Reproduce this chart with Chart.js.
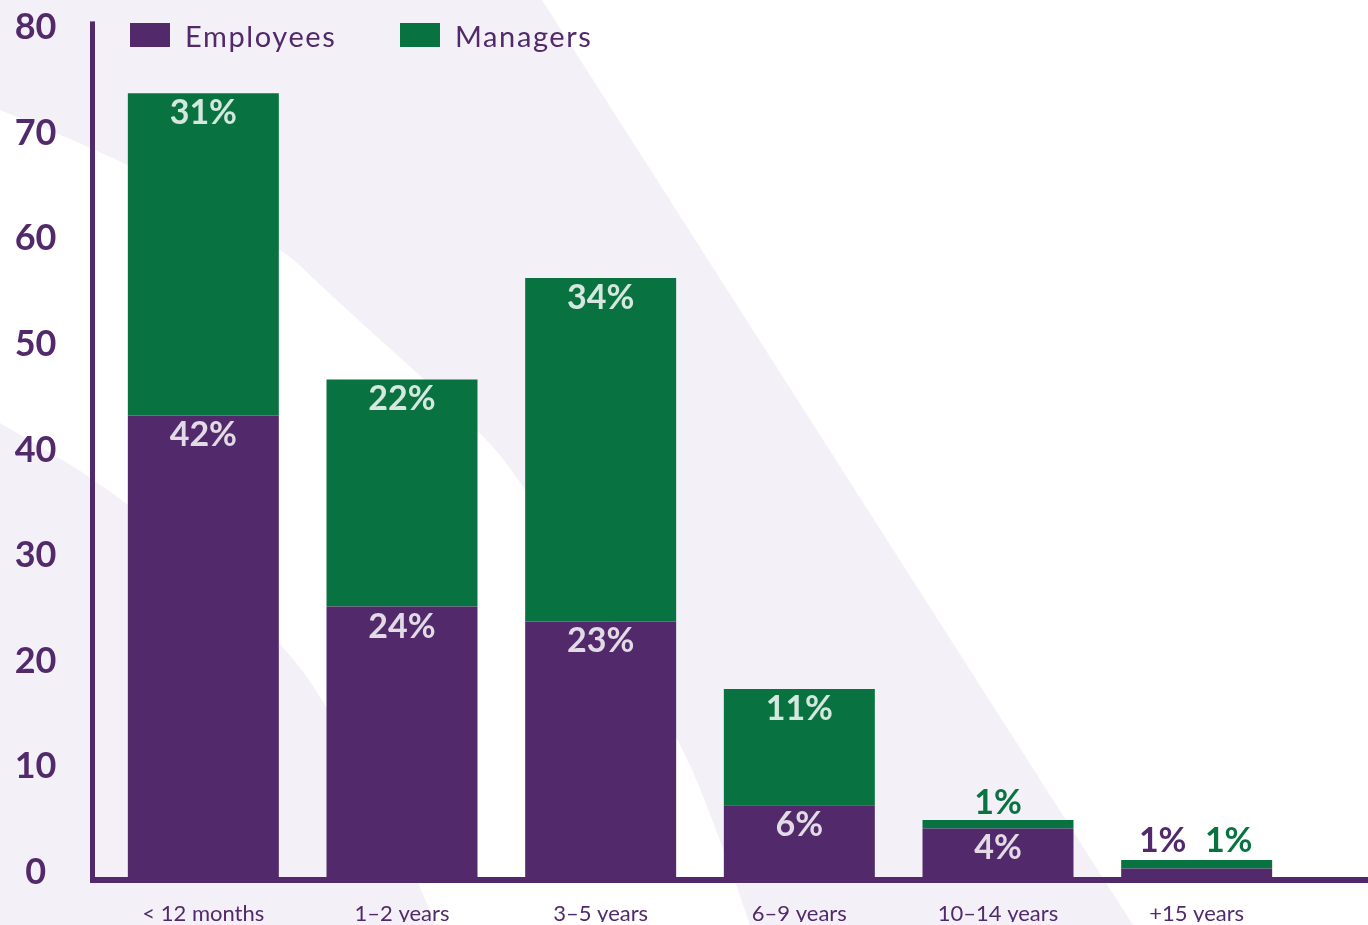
<!DOCTYPE html>
<html lang="en">
<head>
<meta charset="UTF-8">
<title>Tenure - Employees and Managers</title>
<script src="https://cdn.jsdelivr.net/npm/chart.js"></script>
<style>
  html, body { margin: 0; padding: 0; background: #fff; }
  .wrap { position: relative; width: 1368px; height: 925px; overflow: hidden; }
  .legend { position: absolute; left: 130px; top: 23px; display: flex; font-family: Lato, sans-serif; font-size: 29px; color: #522a6b; letter-spacing: 1.6px; }
  .legend-item { display: flex; align-items: center; height: 24px; width: 270px; }
  .legend-item .box { width: 40px; height: 24px; margin-right: 15px; flex: none; }
</style>
</head>
<body>
<div class="wrap">
  <canvas id="tenureChart"></canvas>
  <div class="legend" id="legend"></div>
</div>
<script>
  const categories = ['< 12 months', '1–2 years', '3–5 years', '6–9 years', '10–14 years', '+15 years'];
  const employees = [43.7, 25.6, 24.2, 6.8, 4.6, 0.8];
  const managers = [30.5, 21.5, 32.5, 11.0, 0.8, 0.8];
  const employeeLabels = ['42%', '24%', '23%', '6%', '4%', '1%'];
  const managerLabels = ['31%', '22%', '34%', '11%', '1%', '1%'];
  const yTicks = [0, 10, 20, 30, 40, 50, 60, 70, 80];

  const PURPLE = '#522a6b';
  const GREEN = '#087340';
  const LAVENDER = '#f3f1f7';
  const FONT = 'Lato, "Open Sans", sans-serif';

  // smooth path through points (quadratic via midpoints)
  function smoothPath(ctx, pts, start) {
    if (start) ctx.moveTo(pts[0][0], pts[0][1]);
    else ctx.lineTo(pts[0][0], pts[0][1]);
    for (let i = 1; i < pts.length - 1; i++) {
      const mx = (pts[i][0] + pts[i + 1][0]) / 2;
      const my = (pts[i][1] + pts[i + 1][1]) / 2;
      ctx.quadraticCurveTo(pts[i][0], pts[i][1], mx, my);
    }
    const last = pts[pts.length - 1];
    ctx.lineTo(last[0], last[1]);
  }

  // decorative background shapes
  const backdrop = {
    id: 'backdrop',
    beforeDraw(chart) {
      const { ctx, width, height } = chart;
      ctx.save();
      ctx.fillStyle = LAVENDER;
      ctx.fillRect(0, 0, width, height);
      ctx.fillStyle = '#ffffff';
      ctx.beginPath();
      ctx.moveTo(542, 0);
      ctx.lineTo(width, 0);
      ctx.lineTo(width, height);
      ctx.lineTo(1133, height);
      ctx.closePath();
      ctx.fill();
      const upper = [[0, 110], [125, 160], [279, 245], [326, 291], [477, 427], [525, 486], [676, 728], [723, 847], [750, 925]];
      const lower = [[0, 423], [125, 497], [279, 639], [326, 703], [375, 800], [420, 883], [435, 925]];
      ctx.beginPath();
      smoothPath(ctx, upper, true);
      smoothPath(ctx, lower.slice().reverse(), false);
      ctx.closePath();
      ctx.fill();
      ctx.restore();
    }
  };

  // axis lines + value labels
  const overlay = {
    id: 'overlay',
    afterDatasetsDraw(chart) {
      const { ctx, chartArea } = chart;
      const yScale = chart.scales.y;
      const y0 = yScale.getPixelForValue(0);
      const ax = chartArea.left - 14;
      ctx.save();
      ctx.fillStyle = PURPLE;
      ctx.fillRect(ax, chartArea.top, 5, y0 + 6 - chartArea.top);
      ctx.fillRect(ax, y0, chart.width - ax, 6);

      ctx.font = '700 34px ' + FONT;
      ctx.textAlign = 'center';
      ctx.textBaseline = 'middle';
      const light = 'rgba(255,255,255,0.83)';
      const emp = chart.getDatasetMeta(0).data;
      const mgr = chart.getDatasetMeta(1).data;
      emp.forEach((e, i) => {
        const m = mgr[i];
        const hE = e.base - e.y;
        const hM = m.base - m.y;
        if (hE < 30 && hM < 30) {
          ctx.fillStyle = PURPLE;
          ctx.fillText(employeeLabels[i], e.x - 34, m.y - 19);
          ctx.fillStyle = GREEN;
          ctx.fillText(managerLabels[i], e.x + 32, m.y - 19);
          return;
        }
        if (hE >= 30) {
          ctx.fillStyle = light;
          ctx.fillText(employeeLabels[i], e.x, e.y + 20);
        }
        if (hM >= 30) {
          ctx.fillStyle = light;
          ctx.fillText(managerLabels[i], m.x, m.y + 20);
        } else {
          ctx.fillStyle = GREEN;
          ctx.fillText(managerLabels[i], m.x, m.y - 17);
        }
      });
      ctx.restore();
    }
  };

  const chart = new Chart(document.getElementById('tenureChart'), {
    type: 'bar',
    data: {
      labels: categories,
      datasets: [
        { label: 'Employees', data: employees, backgroundColor: PURPLE },
        { label: 'Managers', data: managers, backgroundColor: GREEN }
      ]
    },
    options: {
      responsive: true,
      maintainAspectRatio: false,
      animation: false,
      layout: { padding: { top: 21.4, right: 72, left: 0, bottom: 3 } },
      datasets: { bar: { barPercentage: 0.76, categoryPercentage: 1 } },
      plugins: { legend: { display: false }, tooltip: { enabled: false } },
      scales: {
        x: {
          stacked: true,
          afterFit: (s) => { s.height = 45; },
          grid: { display: false, drawTicks: false },
          border: { display: false },
          ticks: {
            color: PURPLE,
            font: { family: FONT, size: 22, lineHeight: 0.7 },
            padding: 29.6,
            maxRotation: 0,
            autoSkip: false
          }
        },
        y: {
          stacked: true,
          min: 0,
          max: 81,
          afterBuildTicks: (s) => { s.ticks = yTicks.map(v => ({ value: v })); },
          afterFit: (s) => { s.width = 104; s.paddingTop = 0; s.paddingBottom = 0; },
          grid: { display: false, drawTicks: false },
          border: { display: false },
          ticks: {
            color: PURPLE,
            font: { family: FONT, size: 36, weight: 'bold' },
            crossAlign: 'center',
            padding: 47.5,
            labelOffset: -4.5
          }
        }
      }
    },
    plugins: [backdrop, overlay]
  });

  // html legend
  document.getElementById('legend').innerHTML = chart.data.datasets.map(ds => `
    <div class="legend-item"><span class="box" style="background:${ds.backgroundColor}"></span>${ds.label}</div>
  `).join('');
</script>
</body>
</html>
